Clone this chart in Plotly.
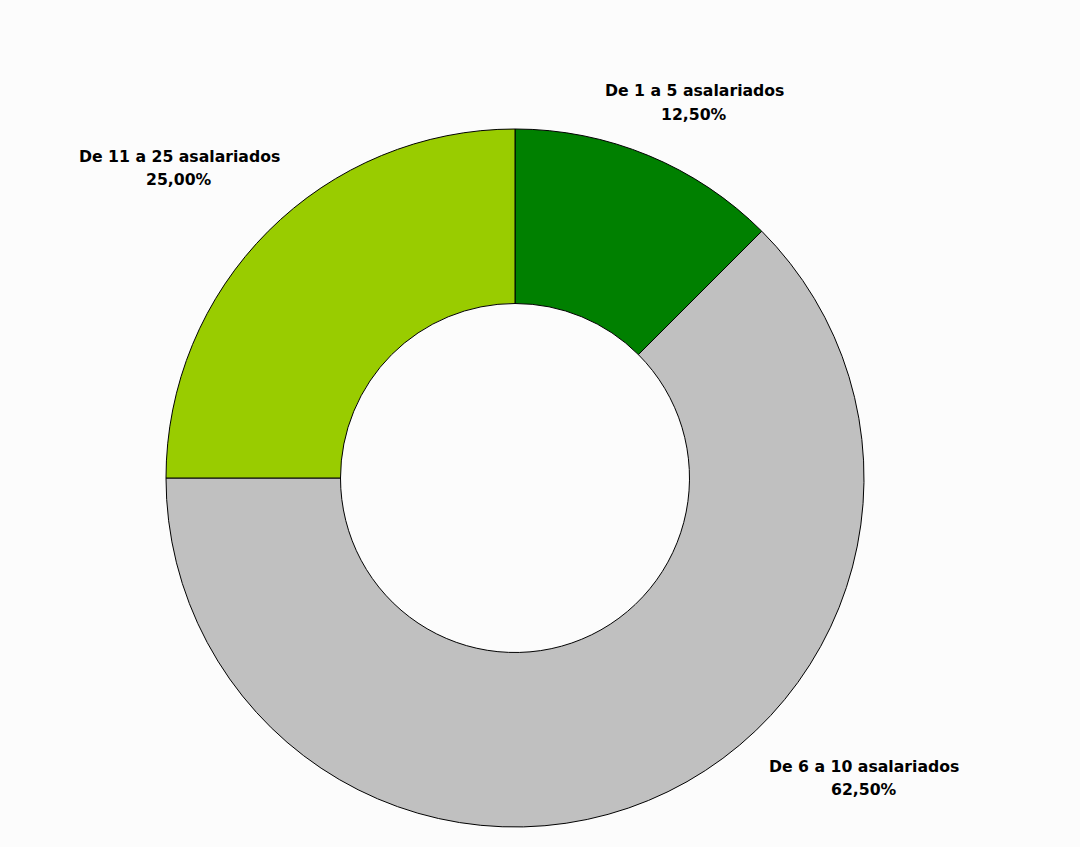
import plotly.graph_objects as go

# Distribución de empresas por número de asalariados
categorias = ["De 1 a 5 asalariados", "De 6 a 10 asalariados", "De 11 a 25 asalariados"]
porcentajes = [12.5, 62.5, 25.0]
colores = ["#008000", "#C0C0C0", "#99CC00"]

# Posición de cada etiqueta (centro de la primera línea, en píxeles)
etiqueta_px = [(694, 91), (864, 766), (179, 156)]
interlinea = 23.5

W, H = 1080, 847
cx, cy, r = 515, 478, 349

fig = go.Figure(
    go.Pie(
        labels=categorias,
        values=porcentajes,
        marker=dict(colors=colores, line=dict(color="#000000", width=1)),
        hole=0.5,
        sort=False,
        direction="clockwise",
        rotation=0,
        textinfo="none",
        hoverinfo="label+percent",
        showlegend=False,
        domain=dict(
            x=[(cx - r) / W, (cx + r) / W],
            y=[(H - cy - r) / H, (H - cy + r) / H],
        ),
    )
)

def fmt(v):
    return f"{v:.2f}".replace(".", ",") + "%"

fuente = dict(family="DejaVu Sans", size=15.7, color="#000000")
for cat, val, (px, py) in zip(categorias, porcentajes, etiqueta_px):
    for i, linea in enumerate([cat, fmt(val)]):
        fig.add_annotation(
            x=px / W, y=1 - (py + i * interlinea) / H,
            xref="paper", yref="paper",
            xanchor="center", yanchor="middle",
            text=f"<b>{linea}</b>",
            showarrow=False, align="center",
            font=fuente,
        )

fig.update_layout(
    width=W, height=H,
    margin=dict(l=0, r=0, t=0, b=0),
    paper_bgcolor="#FCFCFC",
    plot_bgcolor="#FCFCFC",
)

fig.write_html("out.html")
